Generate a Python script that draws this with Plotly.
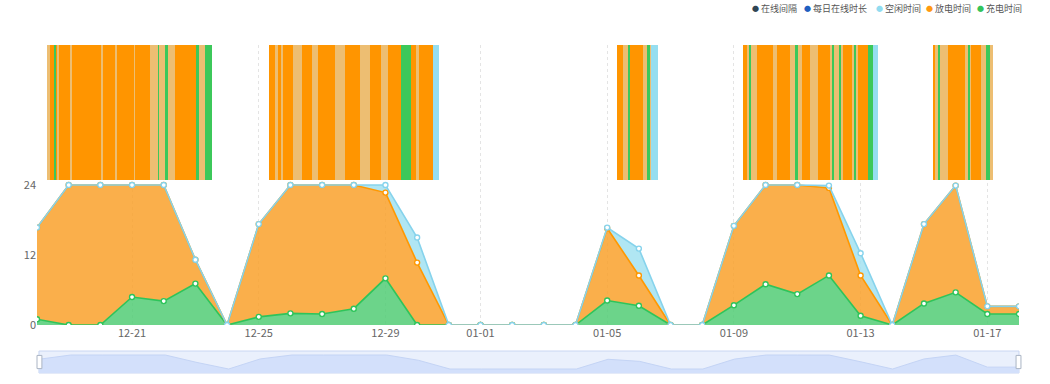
import plotly.graph_objects as go
import pandas as pd

# ---------------- data ----------------
dates = pd.date_range("2023-12-18", "2024-01-18", freq="D")
tick_dates = ["2023-12-18", "2023-12-21", "2023-12-25", "2023-12-29", "2024-01-01",
              "2024-01-05", "2024-01-09", "2024-01-13", "2024-01-17", "2024-01-18"]
tick_text = ["", "12-21", "12-25", "12-29", "01-01", "01-05", "01-09", "01-13", "01-17", ""]

charge = [1.0, 0, 0, 4.8, 4.1, 7.1, 0, 1.4, 2.0, 1.9, 2.8, 8.0, 0, 0, 0, 0,
          0, 0, 4.2, 3.3, 0, 0, 3.4, 7.0, 5.3, 8.5, 1.6, 0, 3.7, 5.6, 1.9, 1.9]
discharge = [15.7, 24, 24, 19.2, 19.9, 4.1, 0, 15.9, 22.0, 22.1, 21.2, 14.7, 10.7, 0, 0, 0,
             0, 0, 12.4, 5.2, 0, 0, 13.6, 17.0, 18.7, 15.0, 6.9, 0, 13.6, 18.3, 1.3, 1.3]
idle = [0, 0, 0, 0, 0, 0, 0, 0, 0, 0, 0, 1.3, 4.3, 0, 0, 0,
        0, 0, 0.1, 4.6, 0, 0, 0, 0, 0, 0.4, 3.8, 0, 0, 0, 0, 0]
total = [c + d + i for c, d, i in zip(charge, discharge, idle)]

# timeline segments: hours after 2023-12-18 00:00
seg_start = [8.3, 9.5, 12.9, 14.0, 15.9, 16.7, 25.0, 25.8, 49.2, 50.0, 59.5, 60.2, 73.5, 74.2,
             85.6, 91.7, 92.4, 97.7, 99.2, 104.5, 121.2, 122.7, 127.3,
             175.8, 180.3, 182.6, 185.2, 186.0, 194.0, 200.4, 208.0, 212.9, 225.8, 233.3,
             244.7, 252.3, 261.0, 265.9, 276.1, 283.3, 287.5, 289.4, 300.0,
             439.4, 444.0, 448.5, 449.3, 459.1, 462.9, 464.4, 465.5,
             535.1, 537.7, 539.8, 540.9, 545.2, 557.8, 560.4, 570.5, 574.6, 576.2, 579.3,
             585.6, 591.9, 600.8, 603.0, 604.2, 607.9, 609.1, 610.8, 617.2, 619.3, 620.4,
             622.2, 629.6, 633.4,
             678.8, 680.4, 682.6, 684.4, 690.2, 702.9, 706.1, 706.8, 707.8, 715.4, 719.2, 721.8]
seg_end = [9.5, 12.9, 14.0, 15.9, 16.7, 25.0, 25.8, 49.2, 50.0, 59.5, 60.2, 73.5, 74.2, 85.6,
           91.7, 92.4, 97.7, 99.2, 104.5, 121.2, 122.7, 127.3, 132.6,
           180.3, 182.6, 185.2, 186.0, 194.0, 200.4, 208.0, 212.9, 225.8, 233.3, 244.7,
           252.3, 261.0, 265.9, 276.1, 283.3, 287.5, 289.4, 300.0, 304.5,
           444.0, 448.5, 449.3, 459.1, 462.9, 464.4, 465.5, 470.5,
           537.7, 539.8, 540.9, 545.2, 557.8, 560.4, 570.5, 574.6, 576.2, 579.3, 585.6,
           591.9, 600.8, 603.0, 604.2, 607.9, 609.1, 610.8, 617.2, 619.3, 620.4, 622.2,
           629.6, 633.4, 636.9,
           680.4, 682.6, 684.4, 690.2, 702.9, 706.1, 706.8, 707.8, 715.4, 719.2, 721.8, 724.3]
seg_state = ["mix", "dis", "chg", "dis", "mix", "dis", "mix", "dis", "mix", "dis", "mix", "dis", "mix", "dis",
             "mix", "chg", "mix", "chg", "mix", "dis", "chg", "mix", "chg",
             "dis", "mix", "dis", "mix", "dis", "mix", "dis", "mix", "dis", "mix", "dis",
             "mix", "dis", "mix", "dis", "chg", "dis", "mix", "dis", "idle",
             "dis", "mix", "chg", "dis", "mix", "chg", "mix", "idle",
             "dis", "mix", "chg", "mix", "dis", "mix", "dis", "mix", "chg", "mix", "dis",
             "mix", "dis", "mix", "chg", "mix", "chg", "mix", "dis", "mix", "chg", "mix",
             "dis", "chg", "idle",
             "dis", "mix", "chg", "mix", "dis", "mix", "chg", "mix", "dis", "mix", "chg", "mix"]
seg_base, seg_top = 24.8, 48

legend_names = ["在线间隔", "每日在线时长", "空闲时间", "放电时间", "充电时间"]
legend_colors = ["#2f4554", "#1f5fc0", "#91dcf0", "#ff9a10", "#33c45a"]

# ---------------- figure ----------------
FONT = "Microsoft YaHei, Noto Sans CJK SC, sans-serif"
W, H = 1050, 384
ML, MR, MT, MB = 37, 31, 45, 11
PW, PH = W - ML - MR, H - MT - MB
fig = go.Figure()

# timeline bars
seg_colors = {"dis": "#ff9500", "mix": "#edbe72", "chg": "#3cc85a", "idle": "#95def0"}
t0 = pd.Timestamp("2023-12-18")
for state, col in seg_colors.items():
    xs, ws = [], []
    for s, e, st in zip(seg_start, seg_end, seg_state):
        if st == state:
            xs.append(t0 + pd.Timedelta(hours=(s + e) / 2))
            ws.append((e - s) * 3600 * 1000)
    fig.add_trace(go.Bar(x=xs, y=[seg_top - seg_base] * len(xs), base=seg_base, width=ws,
                         marker=dict(color=col, line=dict(width=0)), showlegend=False,
                         hoverinfo="skip"))

# stacked areas
series = [("充电时间", charge, "#2ec45a", "rgba(82,204,117,0.85)"),
          ("放电时间", discharge, "#ff9800", "rgba(249,161,43,0.85)"),
          ("空闲时间", idle, "#86d3ec", "rgba(162,226,241,0.85)")]
for name, vals, lc, fc in series:
    fig.add_trace(go.Scatter(x=dates, y=vals, name=name, stackgroup="one", mode="lines+markers",
                             line=dict(color=lc, width=1.6), fillcolor=fc,
                             marker=dict(symbol="circle", size=5, color="white",
                                         line=dict(color=lc, width=1.4)),
                             showlegend=False))

# slider data shadow
fig.add_trace(go.Scatter(x=dates, y=[-6.86] * len(dates), xaxis="x2", yaxis="y2", mode="lines",
                         line=dict(width=0), showlegend=False, hoverinfo="skip"))
fig.add_trace(go.Scatter(x=dates, y=total, xaxis="x2", yaxis="y2", mode="lines",
                         line=dict(color="#c4d4f5", width=1), fill="tonexty",
                         fillcolor="#d3e0fb", showlegend=False, hoverinfo="skip"))

# legend drawn as text items (dot + label) at the top right
leg_px = [755, 807, 879, 929, 980]
leg_y = (H - 8 - MB) / PH
annotations = []
for lx, n, c in zip(leg_px, legend_names, legend_colors):
    annotations.append(dict(x=(lx - ML) / PW, y=leg_y, xref="paper", yref="paper", text="●",
                            showarrow=False, xanchor="center", yanchor="middle",
                            font=dict(size=7, color=c)))
    annotations.append(dict(x=(lx + 4 - ML) / PW, y=leg_y, xref="paper", yref="paper", text=n,
                            showarrow=False, xanchor="left", yanchor="middle",
                            font=dict(size=9, color="#555")))

fig.update_layout(
    width=W, height=H,
    margin=dict(l=ML, r=MR, t=MT, b=MB),
    paper_bgcolor="white", plot_bgcolor="white",
    barmode="overlay", bargap=0, showlegend=False,
    font=dict(family=FONT, size=11, color="#666"),
    annotations=annotations,
    xaxis=dict(type="date", range=["2023-12-18", "2024-01-18"], domain=[0, 1],
               tickvals=tick_dates, ticktext=tick_text, showgrid=True,
               gridcolor="#e4e4e4", griddash="dot", gridwidth=1, zeroline=False,
               showline=False, ticks="", anchor="y", tickfont=dict(size=11, color="#666")),
    yaxis=dict(range=[0, 48], domain=[0.1463, 1], tickvals=[0, 12, 24], showgrid=False,
               automargin=False, zeroline=False, showline=False, ticks="",
               ticklabelstandoff=0, tickfont=dict(size=11, color="#666")),
    xaxis2=dict(type="date", range=["2023-12-18", "2024-01-18"], domain=[0.002, 1.0],
                anchor="y2", visible=False),
    yaxis2=dict(range=[-6.86, 30.86], domain=[0, 0.067], anchor="x2", visible=False),
    shapes=[
        dict(type="rect", xref="x2 domain", yref="y2 domain", x0=0, x1=1, y0=0, y1=1,
             fillcolor="rgba(220,230,250,0.6)", line=dict(color="#c9d6f2", width=1), layer="below"),
        dict(type="rect", xref="x2 domain", yref="y2 domain", x0=-0.002, x1=0.003, y0=0.2, y1=0.8,
             fillcolor="white", line=dict(color="#aab4c4", width=1)),
        dict(type="rect", xref="x2 domain", yref="y2 domain", x0=0.997, x1=1.002, y0=0.2, y1=0.8,
             fillcolor="white", line=dict(color="#aab4c4", width=1)),
    ],
)

fig.write_html("out.html", config={"displayModeBar": False},
               post_script="document.body.style.margin='0';")
